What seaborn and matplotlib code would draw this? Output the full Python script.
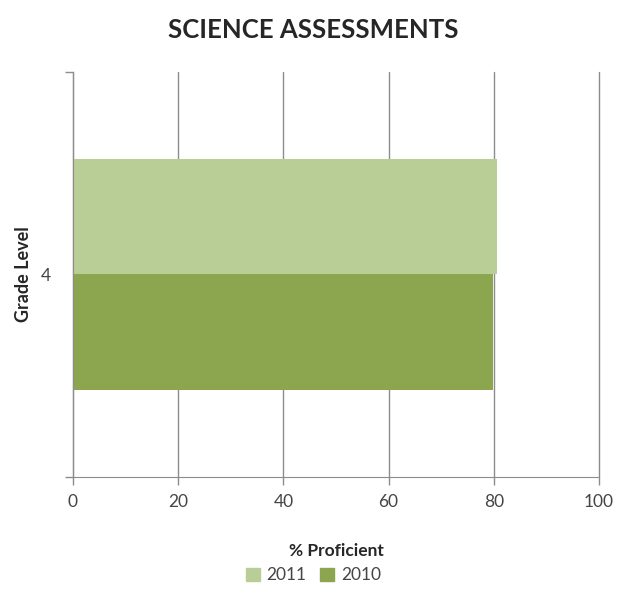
import matplotlib
matplotlib.use("Agg")
import matplotlib.pyplot as plt
import seaborn as sns
import pandas as pd
from matplotlib.patches import Patch

grades = ["4", "4"]
years = ["2011", "2010"]
proficient = [80.6, 79.8]
colors = {"2011": "#B8CE96", "2010": "#8BA64F"}

df = pd.DataFrame({"grade": grades, "year": years, "value": proficient})

sns.set_style("white")
plt.rcParams["font.family"] = ["Lato", "DejaVu Sans"]

fig = plt.figure(figsize=(6.27, 6.12), dpi=100)
ax = fig.add_axes([0.1164, 0.2206, 0.8389, 0.6618])

sns.barplot(data=df, y="grade", x="value", hue="year", hue_order=["2011", "2010"],
            palette=colors, orient="h", width=0.568, saturation=1, ax=ax,
            legend=False, linewidth=0)

ax.set_xlim(0, 100)
ax.set_ylim(0.5, -0.5)
ax.set_xticks([0, 20, 40, 60, 80, 100])
ax.xaxis.grid(True, color="#8c8c8c", linewidth=1)
for gl in ax.get_xgridlines():
    gl.set_clip_on(False)
ax.set_axisbelow(True)

for s in ["top", "right"]:
    ax.spines[s].set_visible(False)
ax.spines["left"].set_color("#8c8c8c")
ax.spines["bottom"].set_color("#8c8c8c")

ax.set_yticks([0])
ax.set_yticklabels(["4"])
ax.set_yticks([-0.5, 0.5], minor=True)
ax.tick_params(axis="y", which="major", left=False, length=0, pad=16, labelsize=12.5,
               labelcolor="#454545")
ax.tick_params(axis="y", which="minor", left=True, length=6, width=1, color="#8c8c8c",
               direction="out")
ax.tick_params(axis="x", which="major", bottom=True, length=6, width=1, color="#8c8c8c",
               direction="out", labelsize=12.5, labelcolor="#454545", pad=6)

ax.set_ylabel("Grade Level", fontsize=13, fontweight="bold", labelpad=6)
ax.set_xlabel("% Proficient", fontsize=12.5, fontweight="bold", labelpad=24)

fig.suptitle("SCIENCE ASSESSMENTS", fontsize=18.5, fontweight="bold", y=0.97)

handles = [Patch(color=colors[y], label=y) for y in ["2011", "2010"]]
fig.legend(handles=handles, loc="center", bbox_to_anchor=(0.5, 0.06), ncol=2,
           frameon=False, fontsize=12.5, handlelength=0.8, handleheight=0.8,
           handletextpad=0.4, columnspacing=0.8, labelcolor="#454545")

fig.savefig("out.png", dpi=100)
